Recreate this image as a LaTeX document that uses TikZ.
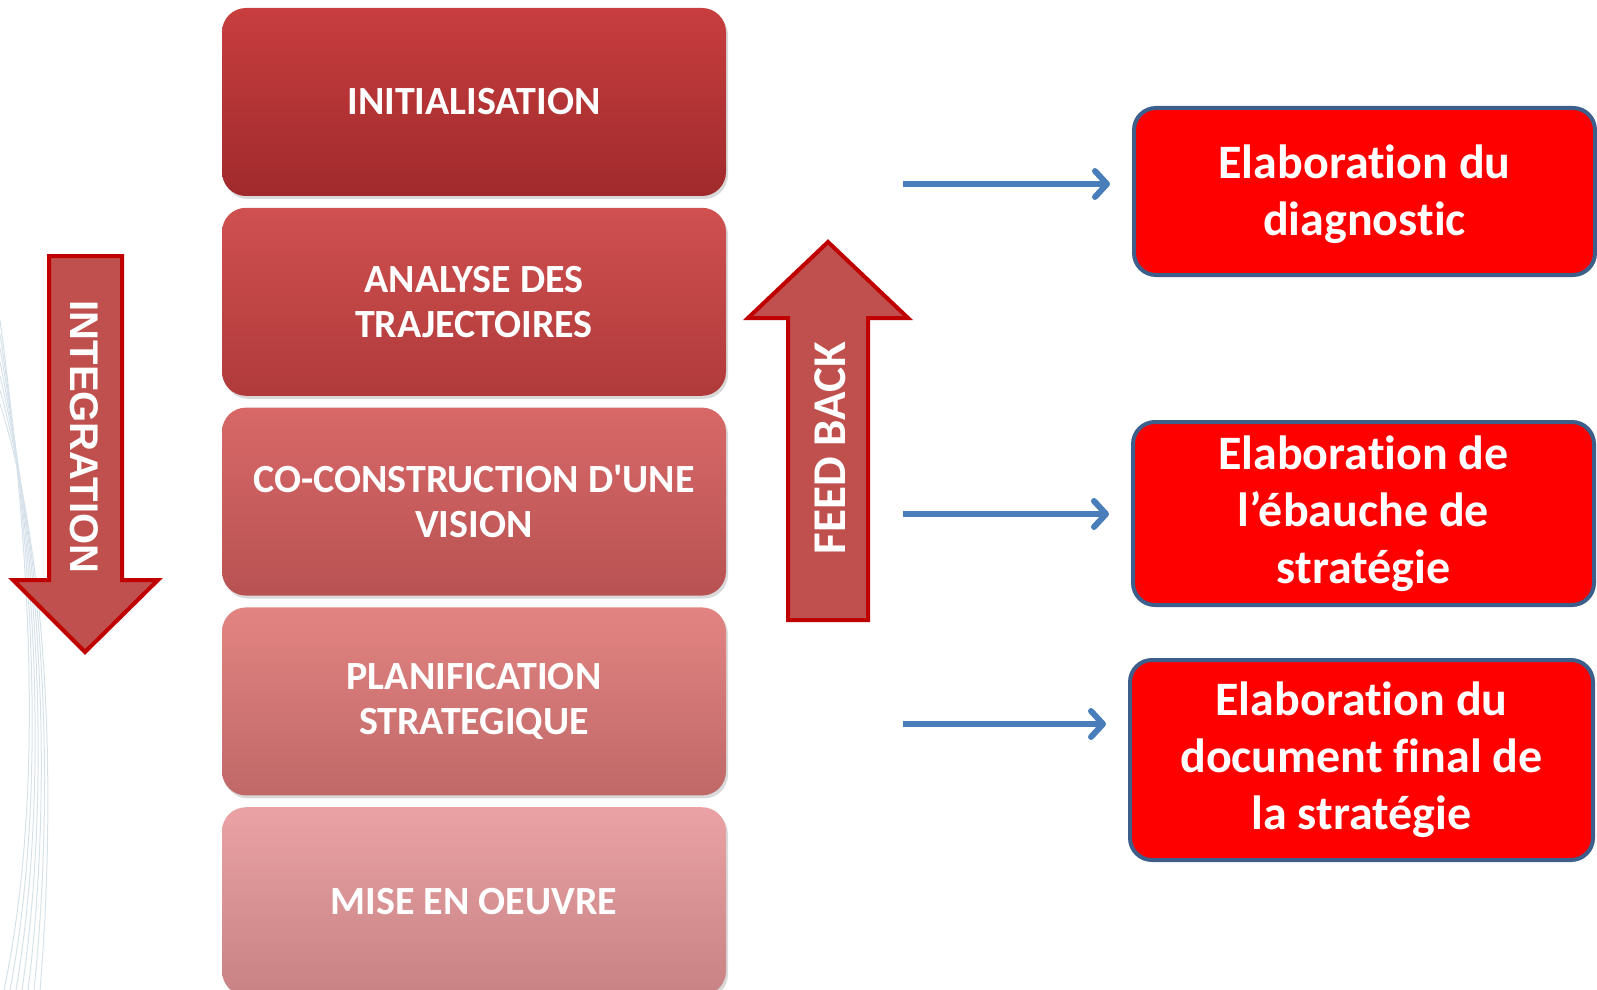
\documentclass[tikz,border=0pt]{standalone}
\usepackage{fontspec}
\setmainfont{Carlito}[Ligatures={NoCommon}]
\newfontfamily\integfont{Liberation Sans}
\usetikzlibrary{positioning,shadows,arrows.meta}

\newcommand\apos{\XeTeXglyph\XeTeXcharglyph"0027\relax}

\definecolor{flechebleue}{HTML}{4A7EBB}
\definecolor{bordure}{HTML}{3C5F8C}
\definecolor{rougefleche}{HTML}{C0504D}
\definecolor{bordfleche}{HTML}{C00000}
\definecolor{fond}{HTML}{D6E2EA}

\tikzset{
  etape/.style={rounded corners=12pt, minimum width=252pt, minimum height=94pt,
    text=white, align=center, inner sep=0pt,
    font=\bfseries\fontsize{20pt}{22.5pt}\selectfont,
    drop shadow={opacity=0.3, shadow xshift=1pt, shadow yshift=-1.5pt}},
  bilan/.style={fill=red, draw=bordure, line width=2pt, rounded corners=11pt,
    text=white, align=center, inner sep=0pt,
    font=\bfseries\fontsize{24pt}{28.5pt}\selectfont},
  grandefleche/.style={fill=rougefleche, draw=bordfleche, line width=2pt},
  lien/.style={draw=flechebleue, line width=3pt, shorten >=11pt,
    -{Straight Barb[length=6pt, width=13pt, round]}},
  courbe/.style={draw=fond, line width=0.5pt}
}

\begin{document}
\begin{tikzpicture}[x=0.5pt, y=-0.5pt]
\useasboundingbox (0,0) rectangle (1597,990);

\foreach \k in {0,...,6}
  \draw[courbe] (0,320+\k*14) .. controls (32+\k*3,560) and (44+\k*2,800) .. (4+\k*6,990);

\node[etape, top color={rgb,255:red,200;green,62;blue,62},
  bottom color={rgb,255:red,160;green,42;blue,44}] (init) at (474,102) {INITIALISATION};
\node[etape, below=5.5pt of init, top color={rgb,255:red,208;green,80;blue,80},
  bottom color={rgb,255:red,176;green,58;blue,58}] (analyse) {ANALYSE DES\\TRAJECTOIRES};
\node[etape, below=5.5pt of analyse, top color={rgb,255:red,216;green,104;blue,104},
  bottom color={rgb,255:red,184;green,82;blue,82}] (vision) {CO-CONSTRUCTION D\apos UNE\\VISION};
\node[etape, below=5.5pt of vision, top color={rgb,255:red,226;green,132;blue,130},
  bottom color={rgb,255:red,192;green,104;blue,104}] (planif) {PLANIFICATION\\STRATEGIQUE};
\node[etape, below=5.5pt of planif, top color={rgb,255:red,234;green,162;blue,164},
  bottom color={rgb,255:red,200;green,130;blue,132}] (oeuvre) {MISE EN OEUVRE};

\draw[grandefleche] (49,256) -- (122,256) -- (122,580) -- (158,580) -- (85,652)
  -- (13,580) -- (49,580) -- cycle;
\node[text=white, rotate=-90, font=\integfont\bfseries\fontsize{20pt}{22pt}\selectfont]
  (integ) at (84,437) {INTEGRATION};

\draw[grandefleche] (788,620) -- (868,620) -- (868,318) -- (908,318) -- (828,242)
  -- (748,318) -- (788,318) -- cycle;
\node[text=white, rotate=90, font=\bfseries\fontsize{23.5pt}{25pt}\selectfont]
  (feedback) at (830,448) {FEED BACK};

\node[bilan, minimum width=230.5pt, minimum height=83.5pt] (diag) at (1364.5,191.5)
  {\strut\\[-28.5pt]Elaboration du\\diagnostic};
\node[bilan, minimum width=230.5pt, minimum height=91.5pt] (ebauche) at (1363.5,513.5)
  {Elaboration de\\l’ébauche de\\stratégie};
\node[bilan, minimum width=231.5pt, minimum height=100pt] (final) at (1361.5,760)
  {Elaboration du\\document final de\\la stratégie};

\coordinate (s1) at (903,184);
\coordinate (s2) at (903,514);
\coordinate (s3) at (903,724);
\draw[lien] (s1) -- (s1 -| diag.west);
\draw[lien] (s2) -- (s2 -| ebauche.west);
\draw[lien] (s3) -- (s3 -| final.west);
\end{tikzpicture}
\end{document}
